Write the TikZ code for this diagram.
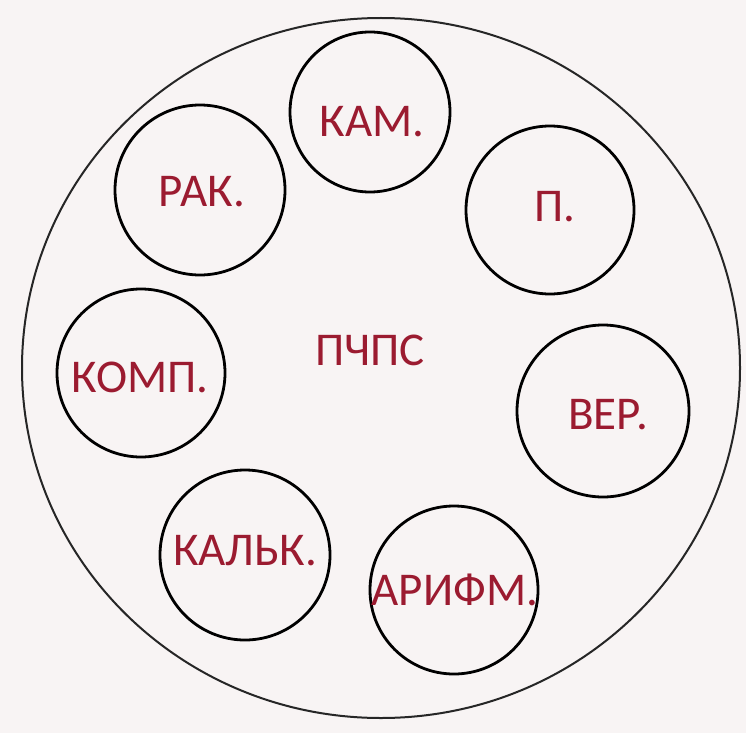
\documentclass[tikz,border=0pt]{standalone}
\usepackage{fontspec}
\setmainfont{Carlito}
\definecolor{txtred}{HTML}{9B1B30}
\definecolor{paper}{HTML}{F8F4F4}
\tikzset{
  outer/.style={draw=black!85, line width=2pt},
  inner/.style={draw=black, line width=2.8pt},
  lbl/.style={text=txtred, font=\fontsize{47}{50}\selectfont, inner sep=0pt},
}
\begin{document}
\begin{tikzpicture}[x=1pt,y=-1pt]
\fill[paper] (0,0) rectangle (746,733);
\useasboundingbox (0,0) rectangle (746,733);
\draw[outer] (381,368) ellipse [x radius=359, y radius=350];
\node[lbl] (center) at (370,350) {ПЧПС};
\draw[inner] (370,112) circle (80);
\node[lbl] (kam) at (372,122) {КАМ.};
\draw[inner] (200,190) circle (85);
\node[lbl] (rak) at (202,192) {РАК.};
\draw[inner] (550,210) circle (84);
\node[lbl] (p) at (555,207) {П.};
\draw[inner] (141,373) circle (84);
\node[lbl] (komp) at (140,377) {КОМП.};
\draw[inner] (603,411) circle (86);
\node[lbl] (ver) at (608,415) {ВЕР.};
\draw[inner] (245,555) circle (85);
\node[lbl] (kalk) at (245,551) {КАЛЬК.};
\draw[inner] (454,590) circle (84);
\node[lbl] (arifm) at (455,590) {АРИФМ.};
\end{tikzpicture}
\end{document}
